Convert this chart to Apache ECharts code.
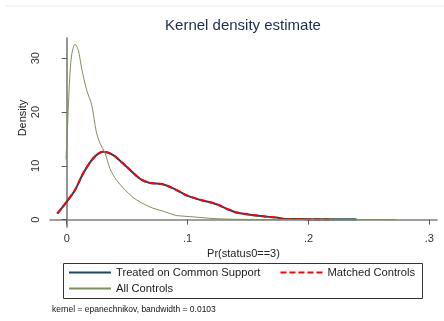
<!DOCTYPE html>
<html>
<head>
<meta charset="utf-8">
<script src="https://cdn.jsdelivr.net/npm/echarts@6/dist/echarts.min.js"></script>
<style>
  html, body { margin: 0; padding: 0; background: #fff; }
  #chart { width: 444px; height: 321px; }
</style>
</head>
<body>
<div id="chart"></div>
<script>
// values: [Pr(status0==3), density]
const treated = [
  [-0.0078, 1.1], [0.0, 3.3], [0.0069, 5.5], [0.0137, 8.6], [0.022, 11.4],
  [0.030, 12.6], [0.0385, 12.0], [0.0496, 9.8], [0.0606, 7.6], [0.0688, 6.8],
  [0.0785, 6.6], [0.0881, 5.8], [0.0992, 4.5], [0.110, 3.7], [0.124, 2.85],
  [0.132, 2.05], [0.1405, 1.3], [0.1515, 0.9], [0.1625, 0.6], [0.1736, 0.37],
  [0.180, 0.12], [0.20, 0.08], [0.22, 0.06], [0.2397, 0.05]
];
const matched = [
  [-0.0078, 1.1], [0.0, 3.3], [0.0069, 5.5], [0.0137, 8.6], [0.022, 11.4],
  [0.030, 12.6], [0.0385, 12.0], [0.0496, 9.8], [0.0606, 7.6], [0.0688, 6.8],
  [0.0785, 6.6], [0.0881, 5.8], [0.0992, 4.5], [0.110, 3.7], [0.124, 2.85],
  [0.132, 2.05], [0.1405, 1.3], [0.1515, 0.9], [0.1625, 0.6], [0.1736, 0.37],
  [0.180, 0.12], [0.20, 0.08], [0.22, 0.06]
];
const allControls = [
  [-0.0006, 11.2], [0.0005, 16.2], [0.0022, 25.0], [0.0041, 30.6], [0.0069, 32.6],
  [0.0096, 31.5], [0.0124, 28.1], [0.0165, 24.1], [0.0207, 21.3], [0.0245, 16.3],
  [0.0275, 14.2], [0.0317, 12.4], [0.0358, 9.5], [0.0413, 7.3], [0.055, 4.1],
  [0.0688, 2.35], [0.0798, 1.55], [0.088, 0.93], [0.0909, 0.75], [0.1046, 0.5],
  [0.121, 0.2], [0.138, 0.06], [0.16, 0.02], [0.2727, 0.0]
];
const xTicks = [0, 0.1, 0.2, 0.3];
const yTicks = [0, 10, 20, 30];
const seriesNames = ["Treated on Common Support", "Matched Controls", "All Controls"];

const FONT = "Liberation Sans, Arial, sans-serif";
const fmtX = v => v === 0 ? "0" : String(+v.toFixed(1)).replace(/^0/, "");

const legendBase = {
  left: 63, padding: [0, 5], itemWidth: 42, itemHeight: 12,
  itemStyle: { opacity: 0 }, // hide the circle marker, keep the line
  textStyle: { fontFamily: FONT, fontSize: 11.2, color: "#222" }
};

const chart = echarts.init(document.getElementById("chart"), null, { renderer: "canvas" });
chart.setOption({
  animation: false,
  backgroundColor: "#fff",
  grid: { left: 50, right: 7, top: 38, bottom: 94 },
  xAxis: {
    type: "value", min: -0.0138, max: 0.3063,
    name: "Pr(status0==3)", nameLocation: "middle", nameGap: 17,
    nameTextStyle: { fontFamily: FONT, fontSize: 11, color: "#222" },
    axisLine: { lineStyle: { color: "#808080", width: 1.5 } },
    axisTick: { customValues: xTicks, length: 5, lineStyle: { color: "#555" } },
    axisLabel: { customValues: xTicks, formatter: fmtX, margin: 6, fontFamily: FONT, fontSize: 11, color: "#333" },
    splitLine: { show: false }
  },
  yAxis: {
    type: "value", min: -1.38, max: 33.76,
    axisLine: { show: true, lineStyle: { color: "#707070", width: 1.5 } },
    axisTick: { show: true, customValues: yTicks, length: 5, lineStyle: { color: "#555" } },
    axisLabel: { customValues: yTicks, rotate: 90, margin: 9, fontFamily: FONT, fontSize: 11, color: "#333" },
    splitLine: { show: false }
  },
  legend: [
    Object.assign({ data: seriesNames.slice(0, 2), top: 267, itemGap: 19 }, legendBase),
    Object.assign({ data: seriesNames.slice(2), top: 283 }, legendBase)
  ],
  graphic: [
    { type: "line", shape: { x1: 6, y1: 6, x2: 444, y2: 6 }, style: { stroke: "#e4ecee", lineWidth: 1 } },
    { type: "text", x: 243, y: 26, style: { text: "Kernel density estimate", font: "15px " + FONT, fill: "#1e2b4f", textAlign: "center", textVerticalAlign: "middle" } },
    { type: "text", x: 23, y: 118, rotation: Math.PI / 2, style: { text: "Density", font: "11px " + FONT, fill: "#222", textAlign: "center", textVerticalAlign: "middle" } },
    { type: "rect", shape: { x: 63.5, y: 263.5, width: 359, height: 35 }, style: { fill: "none", stroke: "#333", lineWidth: 1 } },
    { type: "text", x: 52, y: 310, style: { text: "kernel = epanechnikov, bandwidth = 0.0103", font: "8.5px " + FONT, fill: "#111", textVerticalAlign: "middle" } }
  ],
  series: [
    { name: seriesNames[0], type: "line", data: treated, smooth: 0.3, symbol: "none", lineStyle: { color: "#1a476f", width: 2 }, itemStyle: { color: "#1a476f" } },
    { name: seriesNames[1], type: "line", data: matched, smooth: 0.3, symbol: "none", lineStyle: { color: "#ff0000", width: 2, type: [6, 3] }, itemStyle: { color: "#ff0000" } },
    { name: seriesNames[2], type: "line", data: allControls, smooth: 0.3, symbol: "none", lineStyle: { color: "#7a9455", width: 1 }, itemStyle: { color: "#7a9455" } }
  ]
});
</script>
</body>
</html>
